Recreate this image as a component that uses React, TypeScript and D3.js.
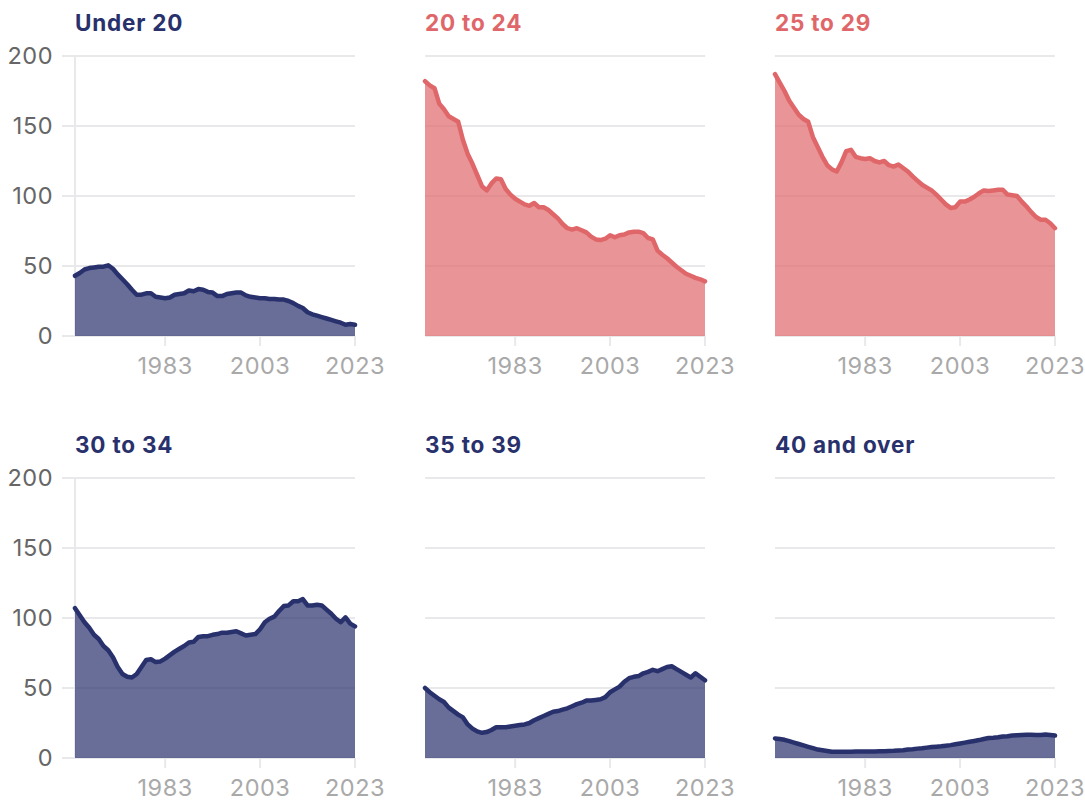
import React from "react";
import * as d3 from "d3";

const years: number[] = d3.range(1964, 2024);
const xTicks: number[] = [1983, 2003, 2023];
const yTicks: number[] = [0, 50, 100, 150, 200];

const titles: string[] = ["Under 20", "20 to 24", "25 to 29", "30 to 34", "35 to 39", "40 and over"];
const highlighted: boolean[] = [false, true, true, false, false, false];

const under20: number[] = [43, 45, 47.5, 48.5, 49, 49.5, 49.5, 50.5, 48, 44, 40.5, 37, 33, 29.5, 29.5, 30.5, 30.5, 28, 27.5, 27, 27.5, 29.5, 30, 30.5, 32.5, 32, 33.5, 33, 31.5, 31, 28.5, 28.5, 30, 30.5, 31, 31, 29, 28, 27.5, 27, 27, 26.5, 26.5, 26, 26, 25, 23.5, 21.5, 20, 17, 15.5, 14.5, 13.5, 12.5, 11.5, 10.5, 9.5, 8, 8.5, 8];
const age20to24: number[] = [182, 179, 177, 166, 162, 157, 155, 153, 140, 130, 123, 115, 107, 104, 109, 112.5, 112, 105, 101, 98, 96, 94, 93, 95, 92, 92, 90, 87, 84, 80, 77, 76, 77, 75.5, 74, 71, 69, 68.5, 69.5, 72, 70.5, 72, 72.5, 74, 74.5, 74.5, 73.5, 70, 69, 61, 58, 55.5, 52.5, 49.5, 47, 44.5, 43, 41.5, 40.5, 39];
const age25to29: number[] = [187, 181, 175, 168, 163, 158, 155, 153, 142, 135, 128, 122, 119, 117.5, 124, 132, 133, 128, 127, 126.5, 127, 125, 124, 125, 122, 121, 122.5, 120, 117.5, 114, 111, 108, 106, 104, 101, 97.5, 94, 91.5, 92, 96, 96, 97.5, 99.5, 102, 104, 103.5, 104, 104.5, 104.5, 101, 100.5, 100, 96, 92.5, 88.5, 85, 83, 83, 80.5, 77];
const age30to34: number[] = [107, 102, 97, 93, 88, 85, 80, 77, 72, 65, 60, 58, 57.5, 60, 65, 70, 70.5, 68.5, 69, 71, 73.5, 76, 78, 80, 82.5, 83, 86.5, 87, 87, 88, 88.5, 89.5, 89.5, 90, 90.5, 89, 87.5, 88, 88.5, 92, 97, 99.5, 101, 105, 108.5, 109, 112, 112, 113.5, 109, 109, 109.5, 109, 106, 103, 99.5, 97, 100.5, 96, 94];
const age35to39: number[] = [50, 47, 44.5, 42, 40, 36, 33.5, 31, 29, 24, 21, 19, 18, 18.5, 20, 22, 22, 22, 22.5, 23, 23.5, 24, 25, 27, 28.5, 30, 31.5, 33, 33.5, 34.5, 35.5, 37, 38.5, 39.5, 41, 41, 41.5, 42, 43.5, 47, 49, 51, 54.5, 57, 58, 58.5, 60.5, 61.5, 63, 62, 63.5, 65, 65.5, 63.5, 61.5, 59.5, 57.5, 60.5, 58, 55.5];
const age40plus: number[] = [14, 13.5, 13, 12, 11, 10, 9, 8, 7, 6, 5.5, 5, 4.5, 4.5, 4.5, 4.5, 4.5, 4.7, 4.7, 4.6, 4.6, 4.7, 4.8, 4.9, 5, 5.1, 5.3, 5.5, 6, 6.3, 6.7, 7, 7.4, 7.8, 8.1, 8.4, 8.8, 9.2, 9.8, 10.4, 11, 11.6, 12.2, 12.8, 13.6, 14.3, 14.5, 14.8, 15.3, 15.5, 16, 16.3, 16.5, 16.6, 16.6, 16.5, 16.4, 16.8, 16.5, 16];

const seriesList: number[][] = [under20, age20to24, age25to29, age30to34, age35to39, age40plus];

const NAVY = "#28316c";
const RED = "#e06769";
const GRID = "#e9e9ec";
const FONT = "Inter, 'Open Sans', sans-serif";

const W = 280;
const H = 280;
const colX = [75, 425, 775];
const rowY = [56, 478];

function Panel({ idx }: { idx: number }) {
  const col = idx % 3;
  const row = Math.floor(idx / 3);
  const left = colX[col];
  const top = rowY[row];
  const color = highlighted[idx] ? RED : NAVY;
  const x = d3.scaleLinear().domain([1964, 2023]).range([0, W]);
  const y = d3.scaleLinear().domain([0, 200]).range([H, 0]);
  const data = seriesList[idx].map((v, i) => ({ year: years[i], v }));
  const area = d3.area<{ year: number; v: number }>().x(d => x(d.year)).y0(y(0)).y1(d => y(d.v));
  const line = d3.line<{ year: number; v: number }>().x(d => x(d.year)).y(d => y(d.v));
  const gridStart = col === 0 ? -13 : 0;
  return (
    <g transform={`translate(${left},${top})`}>
      <text x={0} y={-25} fontFamily={FONT} fontWeight={700} fontSize={22.5} fill={color} letterSpacing={0.8}>
        {titles[idx]}
      </text>
      {yTicks.map(t => (
        <line key={t} x1={gridStart} x2={W} y1={y(t)} y2={y(t)} stroke={GRID} strokeWidth={2} />
      ))}
      {col === 0 && <line x1={0} x2={0} y1={0} y2={H} stroke={GRID} strokeWidth={2} />}
      {col === 0 &&
        yTicks.map(t => (
          <text key={t} x={-22} y={y(t)} dy="0.36em" textAnchor="end" fontFamily={FONT} fontSize={23.5} fill="#666666" letterSpacing={0.5}>
            {t}
          </text>
        ))}
      {xTicks.map(t => (
        <g key={t}>
          <line x1={x(t)} x2={x(t)} y1={H} y2={H + 10} stroke={GRID} strokeWidth={2} />
          <text x={x(t)} y={H + 30} dy="0.36em" textAnchor="middle" fontFamily={FONT} fontSize={23.5} fill="#a9a9a9" letterSpacing={0.5}>
            {t}
          </text>
        </g>
      ))}
      <path d={area(data) || ""} fill={color} fillOpacity={0.7} />
      <path d={line(data) || ""} fill="none" stroke={color} strokeWidth={4.5} strokeLinejoin="round" strokeLinecap="round" />
    </g>
  );
}

export default function App() {
  return (
    <svg width={1085} height={801} style={{ position: "absolute", left: 0, top: 0, background: "#fff" }}>
      {titles.map((_, i) => (
        <Panel key={i} idx={i} />
      ))}
    </svg>
  );
}
